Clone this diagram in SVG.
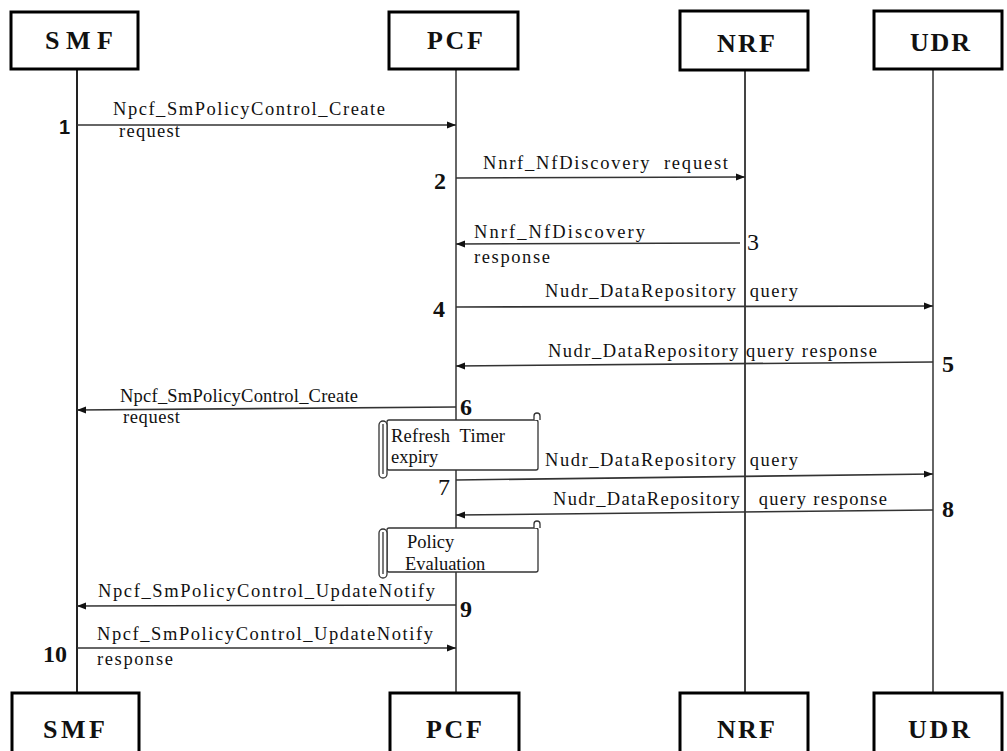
<svg xmlns="http://www.w3.org/2000/svg" width="1007" height="751" viewBox="0 0 1007 751">
<defs>
<marker id="ah" markerWidth="10" markerHeight="8" refX="9" refY="4" orient="auto" markerUnits="userSpaceOnUse">
<path d="M0,0.5 L9,4 L0,7.5 Z" fill="#111"/>
</marker>
<style>
.box{fill:#fff;stroke:#000;stroke-width:3}
.bt{font-family:"Liberation Serif","Times New Roman",serif;font-size:26px;font-weight:bold;fill:#111;text-anchor:middle}
.life{stroke:#666;stroke-width:2;fill:none}
.msg{stroke:#333;stroke-width:1.6;fill:none}
.lbl{font-family:"Liberation Serif","Times New Roman",serif;font-size:18.5px;fill:#111;white-space:pre}
.num{font-family:"Liberation Serif","Times New Roman",serif;font-size:24px;font-weight:bold;fill:#111}
.note{fill:#fff;stroke:#333;stroke-width:1.3}
</style>
</defs>
<g id="lifelines">
<line class="life" x1="77" y1="70" x2="77" y2="692" style="stroke:#222"/>
<line class="life" x1="456" y1="70" x2="456" y2="692"/>
<line class="life" x1="745" y1="70" x2="745" y2="692" style="stroke:#444"/>
<line class="life" x1="933" y1="70" x2="933" y2="692"/>
</g>
<g id="node-smf-top"><rect class="box" x="11" y="12" width="127" height="57"/><text class="bt" x="79" y="49" textLength="68" lengthAdjust="spacing">SMF</text></g>
<g id="node-pcf-top"><rect class="box" x="389" y="12" width="129" height="57"/><text class="bt" x="455" y="49" textLength="56" lengthAdjust="spacing">PCF</text></g>
<g id="node-nrf-top"><rect class="box" x="680" y="11" width="128" height="59"/><text class="bt" x="746" y="52" textLength="58" lengthAdjust="spacing">NRF</text></g>
<g id="node-udr-top"><rect class="box" x="874" y="11" width="128" height="58"/><text class="bt" x="940" y="51" textLength="60" lengthAdjust="spacing">UDR</text></g>
<g id="node-smf-bottom"><rect class="box" x="12" y="693" width="127" height="70"/><text class="bt" x="74" y="738" textLength="62" lengthAdjust="spacing">SMF</text></g>
<g id="node-pcf-bottom"><rect class="box" x="390" y="693" width="129" height="70"/><text class="bt" x="454" y="738" textLength="56" lengthAdjust="spacing">PCF</text></g>
<g id="node-nrf-bottom"><rect class="box" x="680" y="693" width="128" height="70"/><text class="bt" x="746" y="738" textLength="58" lengthAdjust="spacing">NRF</text></g>
<g id="node-udr-bottom"><rect class="box" x="874" y="693" width="128" height="70"/><text class="bt" x="939" y="738" textLength="62" lengthAdjust="spacing">UDR</text></g>
<g id="note-refresh">
<rect class="note" x="387" y="420" width="151" height="50" rx="2"/>
<path class="note" d="M534,420 L534,416 A3,3 0 0 1 540,416 L540,420"/>
<rect class="note" x="379" y="421" width="8" height="57" rx="4"/>
<line class="note" x1="383" y1="424" x2="383" y2="474"/>
<text class="lbl" x="391" y="442" textLength="114" lengthAdjust="spacing">Refresh  Timer</text>
<text class="lbl" x="391" y="463">expiry</text>
</g>
<g id="note-policy">
<rect class="note" x="387" y="528" width="151" height="44" rx="2"/>
<path class="note" d="M534,528 L534,524 A3,3 0 0 1 540,524 L540,528"/>
<rect class="note" x="379" y="529" width="8" height="49" rx="4"/>
<line class="note" x1="383" y1="532" x2="383" y2="574"/>
<text class="lbl" x="407" y="548">Policy</text>
<text class="lbl" x="405" y="570">Evaluation</text>
</g>
<g id="connectors">
<line class="msg" x1="77" y1="125" x2="456" y2="125" marker-end="url(#ah)"/>
<line class="msg" x1="456" y1="178" x2="745" y2="177" marker-end="url(#ah)"/>
<line class="msg" x1="740" y1="243" x2="456" y2="244" marker-end="url(#ah)"/>
<line class="msg" x1="456" y1="307" x2="933" y2="306" marker-end="url(#ah)"/>
<line class="msg" x1="933" y1="362" x2="456" y2="366" marker-end="url(#ah)"/>
<line class="msg" x1="456" y1="407" x2="77" y2="410" marker-end="url(#ah)"/>
<line class="msg" x1="456" y1="480" x2="933" y2="474" marker-end="url(#ah)"/>
<line class="msg" x1="933" y1="510" x2="456" y2="515" marker-end="url(#ah)"/>
<line class="msg" x1="456" y1="605" x2="77" y2="606" marker-end="url(#ah)"/>
<line class="msg" x1="77" y1="648" x2="456" y2="648" marker-end="url(#ah)"/>
</g>
<g id="labels">
<text class="lbl" x="113" y="115" textLength="272" lengthAdjust="spacing">Npcf_SmPolicyControl_Create</text>
<text class="lbl" x="119" y="137" textLength="61" lengthAdjust="spacing">request</text>
<text class="lbl" x="483" y="169" textLength="245" lengthAdjust="spacing">Nnrf_NfDiscovery  request</text>
<text class="lbl" x="474" y="238" textLength="171" lengthAdjust="spacing">Nnrf_NfDiscovery</text>
<text class="lbl" x="474" y="263" textLength="76" lengthAdjust="spacing">response</text>
<text class="lbl" x="545" y="297" textLength="253" lengthAdjust="spacing">Nudr_DataRepository  query</text>
<text class="lbl" x="548" y="357" textLength="329" lengthAdjust="spacing">Nudr_DataRepository query response</text>
<text class="lbl" x="120" y="402" textLength="238" lengthAdjust="spacing">Npcf_SmPolicyControl_Create</text>
<text class="lbl" x="123" y="423" textLength="57" lengthAdjust="spacing">request</text>
<text class="lbl" x="545" y="466" textLength="253" lengthAdjust="spacing">Nudr_DataRepository  query</text>
<text class="lbl" x="553" y="505" textLength="334" lengthAdjust="spacing">Nudr_DataRepository   query response</text>
<text class="lbl" x="98" y="597" textLength="337" lengthAdjust="spacing">Npcf_SmPolicyControl_UpdateNotify</text>
<text class="lbl" x="97" y="640" textLength="336" lengthAdjust="spacing">Npcf_SmPolicyControl_UpdateNotify</text>
<text class="lbl" x="97" y="665" textLength="76" lengthAdjust="spacing">response</text>
</g>
<g id="numbers">
<text class="num" x="59" y="134" style="font-family:'Liberation Sans',Arial,sans-serif;font-size:20px">1</text>
<text class="num" x="434" y="189">2</text>
<text class="num" x="747" y="250" style="font-weight:normal">3</text>
<text class="num" x="433" y="317">4</text>
<text class="num" x="942" y="372">5</text>
<text class="num" x="460" y="415">6</text>
<text class="num" x="438" y="495" style="font-weight:normal">7</text>
<text class="num" x="942" y="517">8</text>
<text class="num" x="460" y="617">9</text>
<text class="num" x="43" y="662">10</text>
</g>
</svg>
